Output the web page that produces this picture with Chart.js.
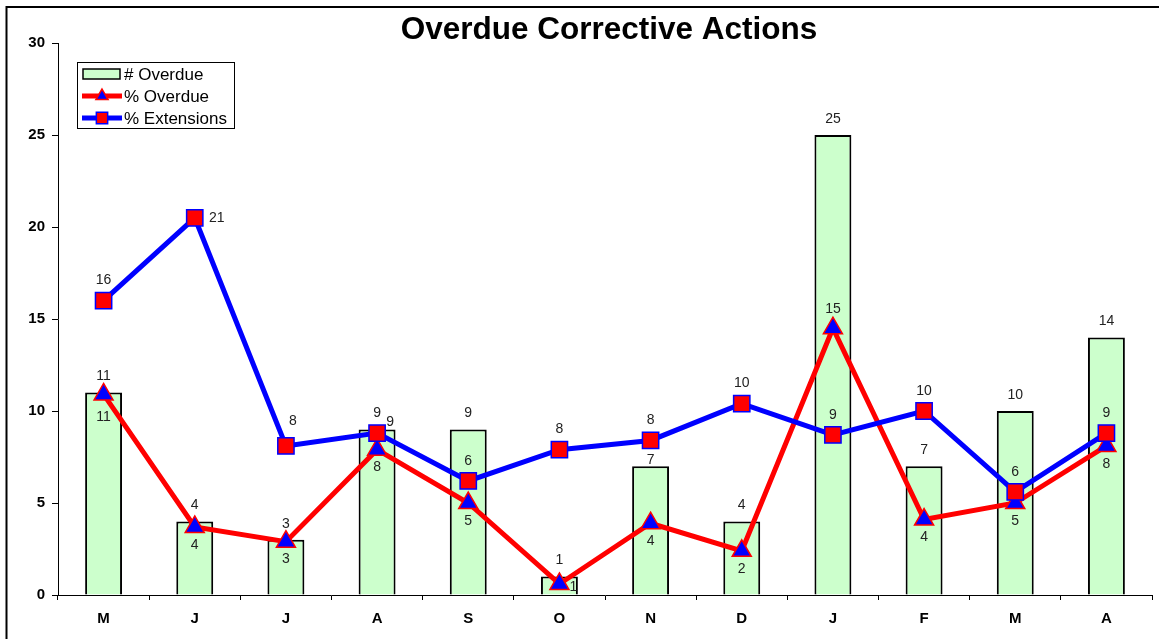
<!DOCTYPE html>
<html>
<head>
<meta charset="utf-8">
<script src="https://cdn.jsdelivr.net/npm/chart.js@4/dist/chart.umd.min.js"></script>
<style>
    html, body { margin: 0; padding: 0; background: #fff; overflow: hidden; }
    #wrap { position: relative; width: 1159px; height: 639px; }
    #chart-main { display: block; }
</style>
</head>
<body>
<div id="wrap"><canvas id="chart-main"></canvas></div>
<script>
const months = ['M', 'J', 'J', 'A', 'S', 'O', 'N', 'D', 'J', 'F', 'M', 'A'];
const overdueCount = [11, 4, 3, 9, 9, 1, 7, 4, 25, 7, 10, 14];
const overduePct = [10.9, 3.7, 2.9, 7.9, 5.0, 0.6, 3.9, 2.4, 14.5, 4.1, 5.0, 8.1];
const extensionsPct = [16.0, 20.5, 8.1, 8.8, 6.2, 7.9, 8.4, 10.4, 8.7, 10.0, 5.6, 8.8];
const yTicks = [0, 5, 10, 15, 20, 25, 30];

const FONT = "'Liberation Sans', Arial, sans-serif";

// where each value label sits relative to its mark (like Excel's label placement)
const labelPlace = [
    { dx: 0, dy: -16, fix: { 6: { dx: 0, dy: -6 } } },
    { dx: 0, dy: 18, fix: { 0: { dx: 0, dy: 23 }, 5: { dx: 14, dy: 3 }, 8: { dx: 0, dy: -19 } } },
    { dx: 0, dy: -20, fix: { 1: { dx: 22, dy: 0 }, 2: { dx: 7, dy: -25 }, 3: { dx: 13, dy: -11 } } }
];

const decor = {
    id: 'decor',
    afterDatasetsDraw(chart) {
        const ctx = chart.ctx;
        ctx.save();

        // value labels
        ctx.font = '14px ' + FONT;
        ctx.fillStyle = '#222';
        ctx.textAlign = 'center';
        ctx.textBaseline = 'middle';
        chart.data.datasets.forEach((ds, i) => {
            const meta = chart.getDatasetMeta(i);
            const place = labelPlace[i];
            meta.data.forEach((el, j) => {
                const p = place.fix[j] || place;
                ctx.fillText(Math.round(ds.data[j]), el.x + p.dx, el.y + p.dy);
            });
        });

        // legend box
        const lx = 77, ly = 62, lw = 157, lh = 66;
        ctx.fillStyle = '#fff';
        ctx.fillRect(lx, ly, lw, lh);
        ctx.strokeStyle = '#000';
        ctx.lineWidth = 1;
        ctx.strokeRect(lx + 0.5, ly + 0.5, lw, lh);

        chart.data.datasets.forEach((ds, i) => {
            const cy = ly + 12 + i * 22;
            if (ds.type === 'line') {
                ctx.strokeStyle = ds.borderColor;
                ctx.lineWidth = 5;
                ctx.beginPath();
                ctx.moveTo(82, cy);
                ctx.lineTo(122, cy);
                ctx.stroke();
                ctx.fillStyle = ds.pointBackgroundColor;
                ctx.strokeStyle = ds.pointBorderColor;
                ctx.lineWidth = 1.5;
                Chart.helpers.drawPoint(ctx, {
                    pointStyle: ds.pointStyle,
                    radius: ds.pointStyle === 'rect' ? 8 : 7,
                    borderWidth: 1.5,
                    rotation: 0
                }, 102, cy);
            } else {
                ctx.fillStyle = ds.backgroundColor;
                ctx.fillRect(83, cy - 5, 37, 10);
                ctx.strokeStyle = '#000';
                ctx.lineWidth = 1.5;
                ctx.strokeRect(83, cy - 5, 37, 10);
            }
            ctx.fillStyle = '#000';
            ctx.font = '17px ' + FONT;
            ctx.textAlign = 'left';
            ctx.fillText(ds.label, 124, cy + 1);
        });

        // title
        ctx.font = 'bold 31.5px ' + FONT;
        ctx.textAlign = 'center';
        ctx.textBaseline = 'alphabetic';
        ctx.fillStyle = '#000';
        ctx.fillText('Overdue Corrective Actions', 609, 39);

        // outer frame (only top and left edges fall inside the picture)
        ctx.strokeStyle = '#000';
        ctx.lineWidth = 2;
        ctx.strokeRect(6.5, 7, 1200, 700);

        ctx.restore();
    }
};

const data = {
    labels: months,
    datasets: [
        {
            type: 'bar',
            label: '# Overdue',
            data: overdueCount,
            backgroundColor: '#ccffcc',
            borderColor: '#000',
            borderWidth: 2,
            barPercentage: 0.405,
            categoryPercentage: 1,
            order: 2
        },
        {
            type: 'line',
            label: '% Overdue',
            data: overduePct,
            borderColor: '#ff0000',
            borderWidth: 5,
            tension: 0,
            pointStyle: 'triangle',
            pointRadius: 11,
            pointBackgroundColor: '#0000ff',
            pointBorderColor: '#ff0000',
            pointBorderWidth: 1.5,
            order: 1
        },
        {
            type: 'line',
            label: '% Extensions',
            data: extensionsPct,
            borderColor: '#0000ff',
            borderWidth: 5,
            tension: 0,
            pointStyle: 'rect',
            pointRadius: 11.5,
            pointBackgroundColor: '#ff0000',
            pointBorderColor: '#0000ff',
            pointBorderWidth: 1.5,
            order: 0
        }
    ]
};

const options = {
    responsive: true,
    maintainAspectRatio: false,
    animation: false,
    layout: { autoPadding: false, padding: { left: 0, right: 7, top: 43, bottom: 0 } },
    plugins: {
        legend: { display: false },
        title: { display: false },
        tooltip: { enabled: false }
    },
    scales: {
        x: {
            offset: true,
            grid: { offset: true, drawOnChartArea: false, drawTicks: true, tickLength: 5, color: '#000' },
            border: { display: true, color: '#000', width: 1 },
            ticks: { color: '#000', font: { family: FONT, size: 15, weight: 'bold' }, padding: 10, maxRotation: 0, autoSkip: false },
            afterFit(scale) {
                scale.height = 44;
                scale.paddingLeft = 0;
                scale.paddingRight = 0;
            }
        },
        y: {
            min: 0,
            max: 30,
            afterBuildTicks(scale) { scale.ticks = yTicks.map(v => ({ value: v })); },
            grid: { drawOnChartArea: false, drawTicks: true, tickLength: 6, color: '#000' },
            border: { display: true, color: '#000', width: 1 },
            ticks: { color: '#000', font: { family: FONT, size: 15, weight: 'bold' }, padding: 7 },
            afterFit(scale) { scale.width = 58; }
        }
    }
};

const chart_main = new Chart(
    document.getElementById('chart-main'),
    { type: 'bar', data: data, options: options, plugins: [decor] }
);
</script>
</body>
</html>
